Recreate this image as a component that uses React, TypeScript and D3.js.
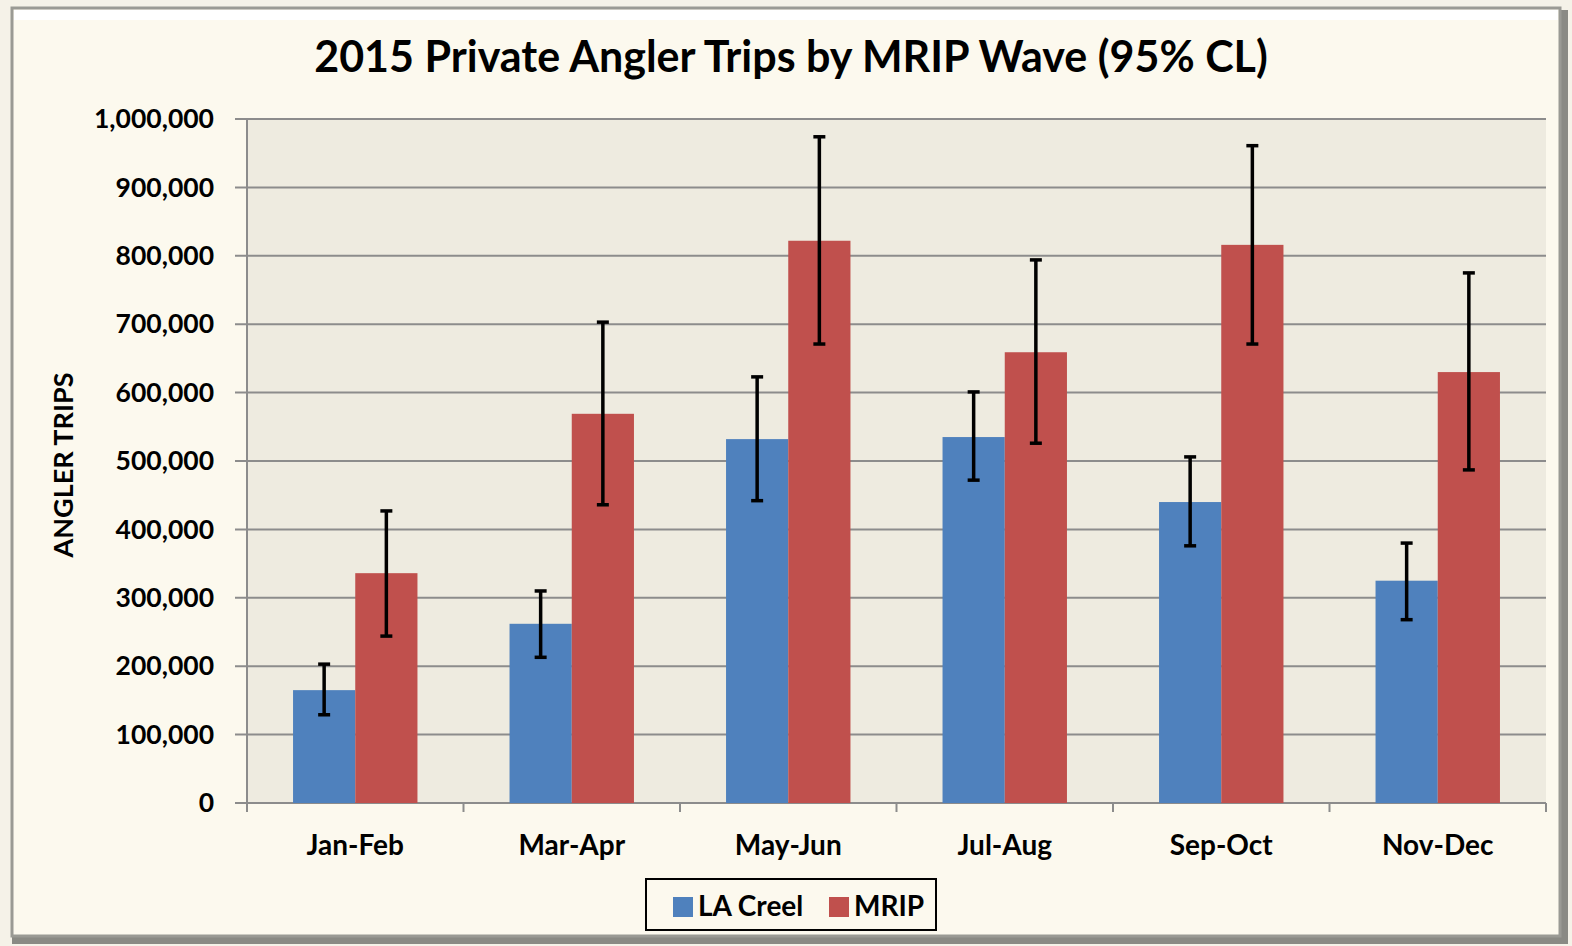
import { useEffect, useRef } from "react";
import * as d3 from "d3";

const waves = ["Jan-Feb", "Mar-Apr", "May-Jun", "Jul-Aug", "Sep-Oct", "Nov-Dec"];
const seriesNames = ["LA Creel", "MRIP"];
const laCreel = [165000, 262000, 532000, 535000, 440000, 325000];
const laCreelLow = [129000, 213000, 442000, 472000, 376000, 268000];
const laCreelHigh = [203000, 310000, 623000, 601000, 506000, 380000];
const mrip = [336000, 569000, 822000, 659000, 816000, 630000];
const mripLow = [244000, 436000, 671000, 526000, 671000, 487000];
const mripHigh = [427000, 703000, 974000, 794000, 961000, 775000];
const yTicks = [0, 100000, 200000, 300000, 400000, 500000, 600000, 700000, 800000, 900000, 1000000];
const colors = ["#4f81bd", "#c0504d"];

const FONT = "Lato, 'Open Sans', sans-serif";

export default function App() {
  const ref = useRef<SVGSVGElement>(null);

  useEffect(() => {
    const svg = d3.select(ref.current);
    svg.selectAll("*").remove();

    const W = 1572, H = 946;
    const left = 247, right = 1546, top = 119, bottom = 803;

    // page + frame
    svg.append("rect").attr("width", W).attr("height", H).attr("fill", "#f5f2e8");
    svg.append("rect").attr("x", 1556).attr("y", 10).attr("width", 12).attr("height", 934).attr("fill", "#8a8a84");
    svg.append("rect").attr("x", 12).attr("y", 934).attr("width", 1556).attr("height", 10).attr("fill", "#8a8a84");
    svg.append("rect").attr("x", 12).attr("y", 8).attr("width", 1548).attr("height", 928)
      .attr("fill", "#fcf9ee").attr("stroke", "#9a9a94").attr("stroke-width", 3);
    svg.append("rect").attr("x", 14).attr("y", 10).attr("width", 1544).attr("height", 10).attr("fill", "#ffffff");

    // title
    svg.append("text")
      .attr("x", 791).attr("y", 72)
      .attr("text-anchor", "middle")
      .style("font-family", FONT).style("font-size", "43px").style("font-weight", "bold")
      .text("2015 Private Angler Trips by MRIP Wave (95% CL)");

    const x0 = d3.scaleBand().domain(waves).range([left, right]).paddingInner(0).paddingOuter(0);
    const x1 = d3.scaleBand().domain(seriesNames).range([0, x0.bandwidth()]).paddingInner(0).paddingOuter(0.74);
    const y = d3.scaleLinear().domain([0, 1000000]).range([bottom, top]);

    // plot area
    svg.append("rect").attr("x", left).attr("y", top).attr("width", right - left).attr("height", bottom - top).attr("fill", "#eeebe0");

    // grid
    svg.append("g").selectAll("line").data(yTicks).enter().append("line")
      .attr("x1", left - 12).attr("x2", right)
      .attr("y1", d => y(d)).attr("y2", d => y(d))
      .attr("stroke", "#8c8c8c").attr("stroke-width", 2);

    // y axis line
    svg.append("line").attr("x1", left).attr("x2", left).attr("y1", top).attr("y2", bottom + 9)
      .attr("stroke", "#8c8c8c").attr("stroke-width", 2);

    // category ticks
    svg.append("g").selectAll("line").data(waves).enter().append("line")
      .attr("x1", d => (x0(d) as number) + x0.bandwidth()).attr("x2", d => (x0(d) as number) + x0.bandwidth())
      .attr("y1", bottom).attr("y2", bottom + 9)
      .attr("stroke", "#8c8c8c").attr("stroke-width", 2);

    // y labels
    const fmt = d3.format(",");
    svg.append("g").selectAll("text").data(yTicks).enter().append("text")
      .attr("x", 214).attr("y", d => y(d))
      .attr("dy", "0.35em").attr("text-anchor", "end")
      .style("font-family", FONT).style("font-size", "26.5px").style("font-weight", "bold")
      .text(d => fmt(d));

    svg.append("text")
      .attr("transform", `translate(73, ${465}) rotate(-90)`)
      .attr("text-anchor", "middle")
      .style("font-family", FONT).style("font-size", "27px").style("font-weight", "bold")
      .text("ANGLER TRIPS");

    // x labels
    svg.append("g").selectAll("text").data(waves).enter().append("text")
      .attr("x", d => (x0(d) as number) + x0.bandwidth() / 2).attr("y", 855)
      .attr("text-anchor", "middle")
      .style("font-family", FONT).style("font-size", "28px").style("font-weight", "bold")
      .text(d => d);

    const series = [
      { name: seriesNames[0], values: laCreel, lo: laCreelLow, hi: laCreelHigh, color: colors[0] },
      { name: seriesNames[1], values: mrip, lo: mripLow, hi: mripHigh, color: colors[1] },
    ];

    series.forEach(s => {
      const g = svg.append("g");
      g.selectAll("rect").data(waves).enter().append("rect")
        .attr("x", d => (x0(d) as number) + (x1(s.name) as number))
        .attr("width", x1.bandwidth())
        .attr("y", (d, i) => y(s.values[i]))
        .attr("height", (d, i) => y(0) - y(s.values[i]))
        .attr("fill", s.color);
    });

    // error bars
    series.forEach(s => {
      const g = svg.append("g").attr("stroke", "#000").attr("stroke-width", 3.5);
      waves.forEach((w, i) => {
        const cx = (x0(w) as number) + (x1(s.name) as number) + x1.bandwidth() / 2;
        g.append("line").attr("x1", cx).attr("x2", cx).attr("y1", y(s.hi[i])).attr("y2", y(s.lo[i]));
        g.append("line").attr("x1", cx - 6).attr("x2", cx + 6).attr("y1", y(s.hi[i])).attr("y2", y(s.hi[i]));
        g.append("line").attr("x1", cx - 6).attr("x2", cx + 6).attr("y1", y(s.lo[i])).attr("y2", y(s.lo[i]));
      });
    });

    // legend
    const lg = svg.append("g");
    lg.append("rect").attr("x", 646).attr("y", 879).attr("width", 290).attr("height", 51)
      .attr("fill", "#fcf9ee").attr("stroke", "#000").attr("stroke-width", 2);
    const legendX = [673, 829];
    series.forEach((s, i) => {
      lg.append("rect").attr("x", legendX[i]).attr("y", 897).attr("width", 20).attr("height", 20).attr("fill", s.color);
      lg.append("text").attr("x", legendX[i] + 25).attr("y", 916)
        .style("font-family", FONT).style("font-size", "28px").style("font-weight", "bold")
        .text(s.name);
    });
  }, []);

  return <svg ref={ref} width={1572} height={946} style={{ position: "absolute", left: 0, top: 0 }} />;
}
